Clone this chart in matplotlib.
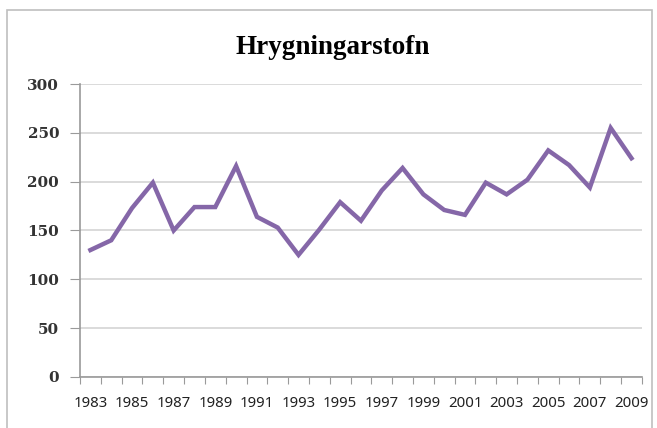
import matplotlib.pyplot as plt
from matplotlib.patches import Rectangle

# spawning stock per year
years = list(range(1983, 2010))
values = [130, 140, 173, 199, 150, 174, 174, 216, 164, 153, 125, 151, 179,
          160, 191, 214, 187, 171, 166, 199, 187, 202, 232, 217, 194, 255, 224]
yticks = [0, 50, 100, 150, 200, 250, 300]

fig = plt.figure(figsize=(6.57, 4.28), dpi=100)
ax = fig.add_axes([0.1218, 0.1192, 0.8552, 0.6845])

x = list(range(len(years)))
ax.plot(x, values, color='#8567A8', linewidth=3.2, solid_joinstyle='miter')

# outer chart frame
fig.patches.append(Rectangle((0.011, -0.05), 0.982, 1.027, transform=fig.transFigure,
                             fill=False, edgecolor='#BFBFBF', linewidth=1.2))

ax.set_xlim(-0.5, len(years) - 0.5)
ax.set_ylim(0, 300)

# tick marks between categories, labels on every other year
ax.set_xticks([i - 0.5 for i in range(len(years) + 1)])
ax.set_xticklabels([])
ax.set_xticks(x[::2], minor=True)
ax.set_xticklabels([str(y) for y in years[::2]], minor=True,
                   family='Noto Sans', fontsize=10.8, color='#222222')
ax.tick_params(axis='x', which='major', length=5, color='#9A9A9A', direction='out')
ax.tick_params(axis='x', which='minor', length=0, pad=14)

ax.set_yticks(yticks)
ax.set_yticklabels([str(v) for v in yticks], family='DejaVu Serif',
                   fontweight='bold', fontsize=11, color='#333333')
ax.tick_params(axis='y', length=7, color='#9A9A9A', pad=8)

ax.grid(axis='y', color='#D4D4D4', linewidth=1.2)
ax.set_axisbelow(True)
for side in ['top', 'right']:
    ax.spines[side].set_visible(False)
for side in ['left', 'bottom']:
    ax.spines[side].set_color('#9A9A9A')
    ax.spines[side].set_linewidth(1.2)

fig.text(0.507, 0.888, 'Hrygningarstofn', ha='center', va='center',
         family='Liberation Serif', fontweight='bold', fontsize=19.5)

fig.savefig('out.png', dpi=100)
